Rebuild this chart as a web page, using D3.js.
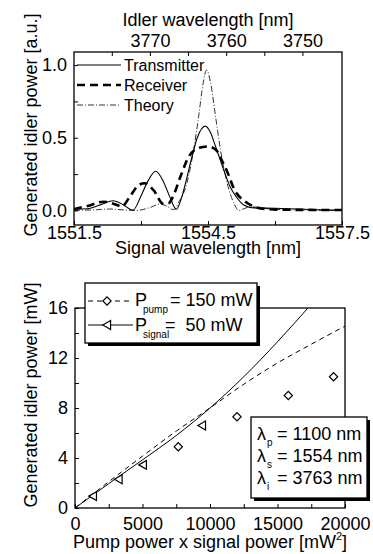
<!doctype html>
<html lang="en">
<head>
<meta charset="utf-8">
<title>Idler power</title>
<script src="https://cdn.jsdelivr.net/npm/d3@7"></script>
<style>
  html, body { margin: 0; padding: 0; background: #fff; }
  svg { display: block; font-family: "Liberation Sans", Arial, sans-serif; }
  .tick line { stroke: #000; stroke-width: 1; }
  .tick text { font-size: 18px; fill: #000; }
</style>
</head>
<body>
<svg width="373" height="554"></svg>
<script>
// ---- top panel: spectra vs signal wavelength ----
const PUMP_NM = 1100;
const transWl  = [1551.5, 1551.8, 1552.1, 1552.38, 1552.6, 1552.82, 1553.0, 1553.15, 1553.33, 1553.5, 1553.65, 1553.79, 1553.9, 1554.03, 1554.15, 1554.26, 1554.44, 1554.55, 1554.67, 1554.85, 1555.0, 1555.08, 1555.3, 1555.53, 1556.0, 1556.5, 1557.0, 1557.5];
const transVal = [0.01, 0.012, 0.04, 0.067, 0.04, 0.002, 0.1, 0.2, 0.27, 0.2, 0.09, 0.008, 0.08, 0.23, 0.38, 0.5, 0.58, 0.54, 0.44, 0.28, 0.16, 0.118, 0.038, 0.018, 0.015, 0.01, 0.005, 0.003];
const recvWl   = [1551.5, 1551.8, 1552.16, 1552.4, 1552.57, 1552.76, 1552.95, 1553.08, 1553.28, 1553.5, 1553.62, 1553.75, 1553.88, 1554.07, 1554.29, 1554.5, 1554.7, 1554.8, 1554.94, 1555.08, 1555.34, 1555.55, 1555.8, 1556.2, 1557.5];
const recvVal  = [0.01, 0.03, 0.06, 0.045, 0.028, 0.1, 0.175, 0.187, 0.14, 0.045, 0.05, 0.12, 0.23, 0.37, 0.43, 0.44, 0.41, 0.35, 0.26, 0.15, 0.06, 0.025, 0.01, 0.005, 0.003];
const theoWl   = [1551.5, 1552.0, 1552.3, 1552.6, 1552.9, 1553.2, 1553.43, 1553.6, 1553.73, 1553.85, 1554.03, 1554.18, 1554.29, 1554.39, 1554.47, 1554.56, 1554.67, 1554.78, 1554.93, 1555.08, 1555.19, 1555.3, 1555.45, 1555.65, 1555.83, 1556.2, 1556.8, 1557.5];
const theoVal  = [0.0, 0.005, 0.01, 0.004, 0.0, 0.02, 0.045, 0.025, 0.005, 0.06, 0.19, 0.42, 0.645, 0.874, 0.966, 0.874, 0.645, 0.416, 0.187, 0.05, 0.0, 0.012, 0.026, 0.02, 0.012, 0.005, 0.002, 0.0];
const sigTicks = [1551.5, 1553, 1554.5, 1556, 1557.5];
const idlerTicks = [3775, 3770, 3765, 3760, 3755, 3750];

// ---- bottom panel: idler power vs pump x signal ----
const prodX      = [0, 2500, 5000, 7500, 10000, 12500, 15000, 17500, 20000];
const pumpLine   = [0, 2.1, 4.15, 6.15, 8.0, 9.9, 11.6, 13.1, 14.55];
const signalX    = [0, 2500, 5000, 7500, 10000, 12500, 15000, 17500];
const signalLine = [0, 1.95, 3.85, 5.8, 8.0, 10.5, 13.3, 16.3];
const pumpPtsX   = [7650, 12000, 15800, 19150];
const pumpPtsY   = [4.9, 7.3, 9.0, 10.5];
const sigPtsX    = [1400, 3300, 5100, 9480];
const sigPtsY    = [0.95, 2.3, 3.45, 6.6];

const svg = d3.select("svg");
const zip = (xs, ys) => xs.map((x, i) => [x, ys[i]]);
const idlerOf = s => 1 / (1 / PUMP_NM - 1 / s);
// drop the axis' own font so ticks use the page font
const plain = g => g.attr("font-family", null).attr("font-size", null).call(g => g.select(".domain").remove());

// ================= TOP =================
const x1 = d3.scaleLinear().domain([1551.5, 1557.5]).range([74, 342]);
const y1 = d3.scaleLinear().domain([-0.1, 1.09]).range([225, 52]);
const xi = d3.scaleLinear().domain([idlerOf(1551.5), idlerOf(1557.5)]).range([74, 342]);

const topG = svg.append("g");
topG.append("g").attr("transform", "translate(0,225)")
  .call(d3.axisBottom(x1).tickValues(sigTicks).tickSize(-4).tickPadding(1)
        .tickFormat(d => (d === 1553 || d === 1556) ? "" : d3.format(".1f")(d)))
  .call(plain);
topG.append("g").attr("transform", "translate(0,52)")
  .call(d3.axisTop(xi).tickValues(idlerTicks).tickSize(-4).tickPadding(5)
        .tickFormat(d => d % 10 === 0 ? d : ""))
  .call(plain);
topG.append("g").attr("transform", "translate(74,0)")
  .call(d3.axisLeft(y1).tickValues([0, 0.25, 0.5, 0.75, 1.0]).tickSize(-4).tickPadding(7)
        .tickFormat(d => d % 0.5 === 0 ? d3.format(".1f")(d) : ""))
  .call(plain);
topG.append("rect").attr("x", 74).attr("y", 52).attr("width", 268).attr("height", 173)
  .attr("fill", "none").attr("stroke", "#000").attr("stroke-width", 1.3);

const line1 = d3.line().x(d => x1(d[0])).y(d => y1(d[1])).curve(d3.curveMonotoneX);
topG.append("path").datum(zip(theoWl, theoVal)).attr("d", line1)
  .attr("fill", "none").attr("stroke", "#000").attr("stroke-width", 0.8).attr("stroke-dasharray", "6,2,1,2");
topG.append("path").datum(zip(transWl, transVal)).attr("d", line1)
  .attr("fill", "none").attr("stroke", "#000").attr("stroke-width", 1.1);
topG.append("path").datum(zip(recvWl, recvVal)).attr("d", line1)
  .attr("fill", "none").attr("stroke", "#000").attr("stroke-width", 2.6).attr("stroke-dasharray", "8,5");

// legend top
const legTop = [["Transmitter", null, 1.1], ["Receiver", "8,5", 2.6], ["Theory", "6,2,1,2", 0.8]];
legTop.forEach((l, i) => {
  const yy = 65 + i * 20;
  topG.append("line").attr("x1", 77).attr("x2", 121).attr("y1", yy).attr("y2", yy)
    .attr("stroke", "#000").attr("stroke-width", l[2]).attr("stroke-dasharray", l[1]);
  topG.append("text").attr("x", 124).attr("y", yy + 6).attr("font-size", 16).text(l[0]);
});

topG.append("text").attr("x", 208).attr("y", 26).attr("text-anchor", "middle").attr("font-size", 18)
  .text("Idler wavelength [nm]");
topG.append("text").attr("x", 208).attr("y", 254).attr("text-anchor", "middle").attr("font-size", 18)
  .text("Signal wavelength [nm]");
topG.append("text").attr("transform", "translate(37,125) rotate(-90)").attr("text-anchor", "middle")
  .attr("font-size", 18).text("Generated idler power [a.u.]");

// ================= BOTTOM =================
const x2 = d3.scaleLinear().domain([0, 20000]).range([75, 345]);
const y2 = d3.scaleLinear().domain([0, 16]).range([508, 308]);
const botG = svg.append("g");

svg.append("defs").append("clipPath").attr("id", "clipB")
  .append("rect").attr("x", 75).attr("y", 308).attr("width", 270).attr("height", 200);

botG.append("g").attr("transform", "translate(0,508)")
  .call(d3.axisBottom(x2).tickValues(d3.range(0, 20001, 2500)).tickSize(-4).tickPadding(9)
        .tickFormat(d => d % 5000 === 0 ? d : ""))
  .call(plain);
botG.append("g").attr("transform", "translate(75,0)")
  .call(d3.axisLeft(y2).tickValues(d3.range(0, 17, 2)).tickSize(-4).tickPadding(7)
        .tickFormat(d => d % 4 === 0 ? d : ""))
  .call(plain);
botG.append("rect").attr("x", 75).attr("y", 308).attr("width", 270).attr("height", 200)
  .attr("fill", "none").attr("stroke", "#000").attr("stroke-width", 1.3);

const line2 = d3.line().x(d => x2(d[0])).y(d => y2(d[1])).curve(d3.curveMonotoneX);
botG.append("path").datum(zip(prodX, pumpLine)).attr("d", line2).attr("clip-path", "url(#clipB)")
  .attr("fill", "none").attr("stroke", "#000").attr("stroke-width", 1).attr("stroke-dasharray", "5,4");
botG.append("path").datum(zip(signalX, signalLine)).attr("d", line2).attr("clip-path", "url(#clipB)")
  .attr("fill", "none").attr("stroke", "#000").attr("stroke-width", 1);

const diamond = d3.symbol(d3.symbolSquare, 34)();
const tri = d3.symbol(d3.symbolTriangle, 34)();
botG.selectAll(".dia").data(zip(pumpPtsX, pumpPtsY)).join("path").attr("class", "dia")
  .attr("d", diamond).attr("transform", d => `translate(${x2(d[0])},${y2(d[1])}) rotate(45)`)
  .attr("fill", "#fff").attr("stroke", "#000").attr("stroke-width", 1.2);
botG.selectAll(".tri").data(zip(sigPtsX, sigPtsY)).join("path").attr("class", "tri")
  .attr("d", tri).attr("transform", d => `translate(${x2(d[0])},${y2(d[1])}) rotate(-90)`)
  .attr("fill", "#fff").attr("stroke", "#000").attr("stroke-width", 1.2);

// legend bottom
botG.append("rect").attr("x", 88).attr("y", 286).attr("width", 172).attr("height", 60).attr("fill", "#000");
botG.append("rect").attr("x", 85).attr("y", 283).attr("width", 172).attr("height", 60)
  .attr("fill", "#fff").attr("stroke", "#000").attr("stroke-width", 1.3);
botG.append("line").attr("x1", 88).attr("x2", 133).attr("y1", 301).attr("y2", 301)
  .attr("stroke", "#000").attr("stroke-dasharray", "5,4");
botG.append("path").attr("d", diamond).attr("transform", "translate(107,301) rotate(45)")
  .attr("fill", "#fff").attr("stroke", "#000").attr("stroke-width", 1.2);
botG.append("line").attr("x1", 88).attr("x2", 133).attr("y1", 325).attr("y2", 325).attr("stroke", "#000");
botG.append("path").attr("d", tri).attr("transform", "translate(108,325) rotate(-90)")
  .attr("fill", "#fff").attr("stroke", "#000").attr("stroke-width", 1.2);
const leg2 = [["pump", "= 150 mW", 306, 170], ["signal", "=  50 mW", 331, 165]];
leg2.forEach(l => {
  botG.append("text").attr("x", 135).attr("y", l[2]).attr("font-size", 18).text("P");
  botG.append("text").attr("x", 143).attr("y", l[2] + 7).attr("font-size", 10).text(l[0]);
  botG.append("text").attr("x", l[3]).attr("y", l[2]).attr("font-size", 18)
    .style("white-space", "pre").text(l[1]);
});

// annotation box
botG.append("rect").attr("x", 254).attr("y", 420).attr("width", 116).attr("height", 81).attr("fill", "#000");
botG.append("rect").attr("x", 251).attr("y", 417).attr("width", 116).attr("height", 81)
  .attr("fill", "#fff").attr("stroke", "#000").attr("stroke-width", 1.3);
const ann = [["p", "= 1100 nm"], ["s", "= 1554 nm"], ["i", "= 3763 nm"]];
ann.forEach((a, i) => {
  const yy = 440 + i * 22;
  botG.append("text").attr("x", 257).attr("y", yy).attr("font-size", 18).text("λ");
  botG.append("text").attr("x", 267).attr("y", yy + 6).attr("font-size", 10).text(a[0]);
  botG.append("text").attr("x", 277).attr("y", yy).attr("font-size", 18).text(a[1]);
});

const xt = botG.append("text").attr("x", 210).attr("y", 548).attr("text-anchor", "middle").attr("font-size", 18);
xt.append("tspan").text("Pump power x signal power [mW");
xt.append("tspan").attr("dy", -8).attr("font-size", 11).text("2");
xt.append("tspan").attr("dy", 8).text("]");
botG.append("text").attr("transform", "translate(37,395) rotate(-90)").attr("text-anchor", "middle")
  .attr("font-size", 18).text("Generated idler power [mW]");
</script>
</body>
</html>
